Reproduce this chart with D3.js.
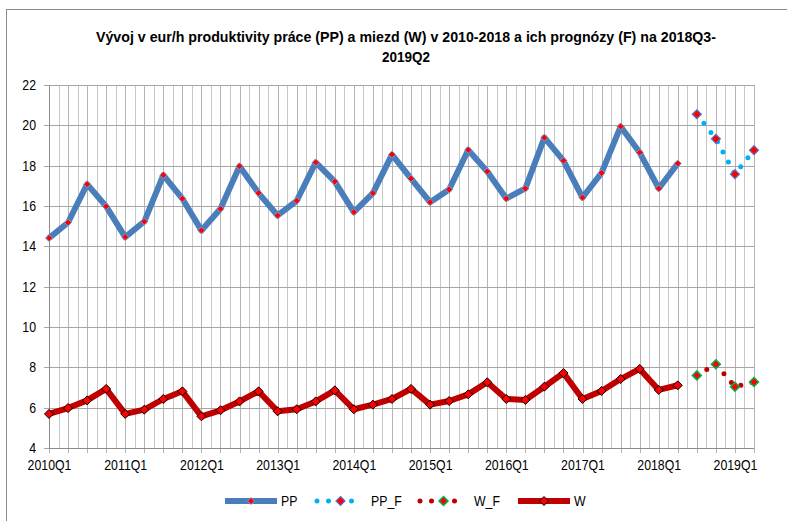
<!DOCTYPE html>
<html>
<head>
<meta charset="utf-8">
<script src="https://cdn.jsdelivr.net/npm/d3@7"></script>
<style>
body { margin: 0; background: #fff; }
text { font-family: "Liberation Sans Narrow", "Arial Narrow", "Liberation Sans", Arial, sans-serif; fill: #000; }
</style>
</head>
<body>
<div id="vis"></div>
<script>
// quarters on the x axis
var quarters = ['2010Q1', '2010Q2', '2010Q3', '2010Q4', '2011Q1', '2011Q2', '2011Q3', '2011Q4',
    '2012Q1', '2012Q2', '2012Q3', '2012Q4', '2013Q1', '2013Q2', '2013Q3', '2013Q4',
    '2014Q1', '2014Q2', '2014Q3', '2014Q4', '2015Q1', '2015Q2', '2015Q3', '2015Q4',
    '2016Q1', '2016Q2', '2016Q3', '2016Q4', '2017Q1', '2017Q2', '2017Q3', '2017Q4',
    '2018Q1', '2018Q2', '2018Q3', '2018Q4', '2019Q1', '2019Q2'];

var tick_labels = ['2010Q1', '2011Q1', '2012Q1', '2013Q1', '2014Q1', '2015Q1',
    '2016Q1', '2017Q1', '2018Q1', '2019Q1'];

var y_ticks = [4, 6, 8, 10, 12, 14, 16, 18, 20, 22];

// actual values 2010Q1 - 2018Q2
var pp = [14.41, 15.18, 17.08, 15.98, 14.46, 15.23, 17.53, 16.36,
    14.79, 15.86, 17.97, 16.64, 15.53, 16.26, 18.16, 17.21,
    15.70, 16.64, 18.55, 17.36, 16.19, 16.82, 18.78, 17.71,
    16.37, 16.87, 19.39, 18.25, 16.42, 17.64, 19.94, 18.65,
    16.87, 18.11];
var w = [5.69, 5.98, 6.36, 6.93, 5.69, 5.90, 6.43, 6.81,
    5.57, 5.87, 6.31, 6.81, 5.82, 5.92, 6.31, 6.86,
    5.92, 6.15, 6.43, 6.93, 6.15, 6.33, 6.66, 7.26,
    6.43, 6.38, 7.04, 7.72, 6.43, 6.83, 7.42, 7.92,
    6.88, 7.11];

// forecasts 2018Q3 - 2019Q2
var pp_f = [20.55, 19.33, 17.58, 18.77];
var w_f = [7.60, 8.15, 7.04, 7.27];

var width = 787;
var height = 521;

var margin = {
    top: 85,
    bottom: 73,
    left: 49,
    right: 33
};

// no narrow font installed, so squeeze the regular one a bit
var narrow = 'scale(0.88,1)';

var root = d3.select('#vis')
    .append('svg')
    .attr('width', width)
    .attr('height', height);

// chart frame
root.append('rect')
    .attr('x', 6.5)
    .attr('y', 9.5)
    .attr('width', 900)
    .attr('height', 600)
    .attr('fill', 'none')
    .attr('stroke', '#8c8c8c');

var title = root.append('text')
    .attr('text-anchor', 'middle')
    .attr('font-weight', 'bold')
    .attr('font-size', 15);
title.append('tspan')
    .attr('x', 406)
    .attr('y', 42)
    .attr('textLength', 620)
    .attr('lengthAdjust', 'spacingAndGlyphs')
    .text('Vývoj v eur/h produktivity práce (PP) a miezd (W)  v 2010-2018 a  ich prognózy (F) na 2018Q3-');
title.append('tspan')
    .attr('x', 406)
    .attr('y', 62)
    .attr('textLength', 48)
    .attr('lengthAdjust', 'spacingAndGlyphs')
    .text('2019Q2');

var svg = root.append('g')
    .attr('transform', 'translate(' + margin.left + ',' + margin.top + ')');

width = width - margin.left - margin.right;
height = height - margin.top - margin.bottom;

var x_scale = d3.scalePoint()
    .domain(quarters)
    .range([0, width])
    .padding(0);

var y_scale = d3.scaleLinear()
    .domain([4, 22])
    .range([height, 0]);

var step = x_scale.step();

// vertical gridlines: one at each quarter and one halfway between
var mids = quarters.slice(0, -1);
svg.selectAll('.vgrid-mid')
    .data(mids)
    .enter()
    .append('line')
    .attr('class', 'vgrid-mid')
    .attr('x1', function(d) { return Math.round(x_scale(d) + step / 2) + 0.5; })
    .attr('x2', function(d) { return Math.round(x_scale(d) + step / 2) + 0.5; })
    .attr('y1', 0)
    .attr('y2', height)
    .attr('stroke', '#c8c8c8');

svg.selectAll('.vgrid')
    .data(quarters)
    .enter()
    .append('line')
    .attr('class', 'vgrid')
    .attr('x1', function(d) { return Math.round(x_scale(d)) + 0.5; })
    .attr('x2', function(d) { return Math.round(x_scale(d)) + 0.5; })
    .attr('y1', 0)
    .attr('y2', height + 5)
    .attr('stroke', '#b4b4b4');

svg.selectAll('.hgrid')
    .data(y_ticks)
    .enter()
    .append('line')
    .attr('class', 'hgrid')
    .attr('x1', -5)
    .attr('x2', width)
    .attr('y1', function(d) { return Math.round(y_scale(d)) + 0.5; })
    .attr('y2', function(d) { return Math.round(y_scale(d)) + 0.5; })
    .attr('stroke', '#a6a6a6');

// axes
var y_axis = d3.axisLeft(y_scale)
    .tickValues(y_ticks)
    .tickSize(0)
    .tickPadding(13);

var x_axis = d3.axisBottom(x_scale)
    .tickValues(tick_labels)
    .tickSize(0)
    .tickPadding(12);

svg.append('g')
    .attr('class', 'y axis')
    .call(y_axis);

svg.append('g')
    .attr('class', 'x axis')
    .attr('transform', 'translate(0,' + height + ')')
    .call(x_axis);

svg.selectAll('.axis .domain').remove();
svg.selectAll('.axis text')
    .attr('font-size', 14)
    .attr('font-family', null);

// squeeze x labels around their own centre, y labels around their right edge
svg.selectAll('.axis text')
    .attr('transform', function() {
        var x = +d3.select(this).attr('x') || 0;
        return 'translate(' + x + ',0)' + narrow + 'translate(' + (-x) + ',0)';
    });

svg.append('line')
    .attr('x1', 0.5).attr('x2', 0.5)
    .attr('y1', 0).attr('y2', height)
    .attr('stroke', '#8c8c8c');
svg.append('line')
    .attr('x1', 0).attr('x2', width)
    .attr('y1', height + 0.5).attr('y2', height + 0.5)
    .attr('stroke', '#8c8c8c');

// series
var actual = quarters.slice(0, pp.length);
var fcast = quarters.slice(pp.length);

function diamond(r) {
    return 'M0,' + (-r) + 'L' + r + ',0L0,' + r + 'L' + (-r) + ',0Z';
}

function pairs(keys, values) {
    return keys.map(function(k, i) { return [k, values[i]]; });
}

var line = d3.line()
    .x(function(d) { return x_scale(d[0]); })
    .y(function(d) { return y_scale(d[1]); });

var series = [
    { name: 'PP', data: pairs(actual, pp), color: '#4a7ebb', lw: 6, dash: null,
      r: 3.5, fill: '#ff0000', edge: '#7aa0d6', ew: 1 },
    { name: 'PP_F', data: pairs(fcast, pp_f), color: '#00b0f0', lw: 5, dash: '0 11.5',
      r: 4.5, fill: '#ff0000', edge: '#5b6fc4', ew: 1.2 },
    { name: 'W_F', data: pairs(fcast, w_f), color: '#c00000', lw: 5, dash: '0 11.5',
      r: 4.5, fill: '#ff0000', edge: '#00b050', ew: 1.5 },
    { name: 'W', data: pairs(actual, w), color: '#c00000', lw: 6, dash: null,
      r: 4.5, fill: '#ff0000', edge: '#000000', ew: 1 }
];

series.forEach(function(s) {
    svg.append('path')
        .datum(s.data)
        .attr('fill', 'none')
        .attr('stroke', s.color)
        .attr('stroke-width', s.lw)
        .attr('stroke-linejoin', 'round')
        .attr('stroke-linecap', s.dash ? 'round' : 'butt')
        .attr('stroke-dasharray', s.dash)
        .attr('d', line);

    svg.selectAll('.m-' + s.name)
        .data(s.data)
        .enter()
        .append('path')
        .attr('class', 'm-' + s.name)
        .attr('transform', function(d) {
            return 'translate(' + x_scale(d[0]) + ',' + y_scale(d[1]) + ')';
        })
        .attr('d', diamond(s.r))
        .attr('fill', s.fill)
        .attr('stroke', s.edge)
        .attr('stroke-width', s.ew);
});

// legend
var legend_x = [225, 317, 420, 518];
var legend = root.append('g')
    .attr('transform', 'translate(0,501)');

series.forEach(function(s, i) {
    var g = legend.append('g')
        .attr('transform', 'translate(' + legend_x[i] + ',0)');
    g.append('line')
        .attr('x1', 0).attr('x2', s.dash ? 46 : 52)
        .attr('y1', 0).attr('y2', 0)
        .attr('stroke', s.color)
        .attr('stroke-width', s.lw)
        .attr('stroke-linecap', s.dash ? 'round' : 'butt')
        .attr('stroke-dasharray', s.dash);
    g.append('path')
        .attr('transform', 'translate(' + (s.dash ? 23.5 : 26) + ',0)')
        .attr('d', diamond(s.r))
        .attr('fill', s.fill)
        .attr('stroke', s.edge)
        .attr('stroke-width', s.ew);
    g.append('text')
        .attr('transform', 'translate(' + (s.dash ? 54 : 56) + ',5)' + narrow)
        .attr('font-size', 14)
        .text(s.name);
});
</script>
</body>
</html>
